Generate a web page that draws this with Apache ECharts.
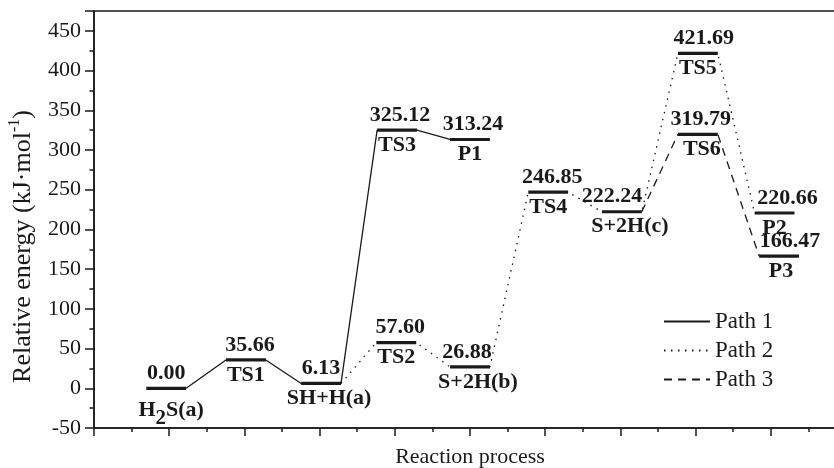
<!DOCTYPE html>
<html>
<head>
<meta charset="utf-8">
<script src="https://cdn.jsdelivr.net/npm/echarts@6/dist/echarts.min.js"></script>
<style>
html,body{margin:0;padding:0;background:#fff;}
#chart{width:834px;height:468px;}
</style>
</head>
<body>
<div id="chart"></div>
<script>
// ---- data ----
const stageNames = ['H2S(a)', 'TS1', 'SH+H(a)', 'TS2', 'TS3', 'P1', 'S+2H(b)', 'TS4', 'S+2H(c)', 'TS5', 'TS6', 'P2', 'P3'];
const reactionCoord = [0.96, 2.02, 3.02, 4.02, 4.03, 5.00, 5.00, 6.04, 7.02, 8.03, 8.03, 9.05, 9.11];
const energies = [0.00, 35.66, 6.13, 57.60, 325.12, 313.24, 26.88, 246.85, 222.24, 421.69, 319.79, 220.66, 166.47];
const path1 = ['H2S(a)', 'TS1', 'SH+H(a)', 'TS3', 'P1'];
const path2 = ['SH+H(a)', 'TS2', 'S+2H(b)', 'TS4', 'S+2H(c)', 'TS5', 'P2'];
const path3 = ['S+2H(c)', 'TS6', 'P3'];
const pathNames = ['Path 1', 'Path 2', 'Path 3'];

// ---- style ----
const FONT = 'Liberation Serif';
const INK = '#1a1a1a';
const HALF_W = 0.265; // half bar width in reaction-coordinate units
// label nudges (px), matching the reference placement
const valueDx = {'TS1': 4, 'TS2': 4, 'TS3': 3, 'P1': 3, 'S+2H(b)': -3, 'TS4': 4, 'S+2H(c)': -10, 'TS5': 6, 'TS6': 3, 'P2': 13, 'P3': 11};
const nameDx = {'H2S(a)': 5, 'SH+H(a)': 8, 'S+2H(b)': 8, 'S+2H(c)': 8, 'TS6': 4, 'P3': 2};

function idx(n) { return stageNames.indexOf(n); }
function pathData(path) {
  const out = [];
  for (let k = 0; k < path.length; k++) {
    const i = idx(path[k]);
    if (k > 0) out.push([reactionCoord[i] - HALF_W, energies[i]]);
    if (k < path.length - 1) out.push([reactionCoord[i] + HALF_W, energies[i]]);
  }
  return out;
}
function richName(n) {
  if (n.indexOf('H2S') === 0) return '{b|H}{s|2}{b|' + n.slice(2) + '}';
  return '{b|' + n + '}';
}

const levelData = stageNames.map((n, i) => [reactionCoord[i], energies[i], i]);

const lineTypes = ['solid', [1.5, 5.5], [8, 6]];
const paths = [path1, path2, path3];

const series = paths.map((p, k) => ({
  name: pathNames[k],
  type: 'line',
  data: pathData(p),
  symbol: 'none',
  showSymbol: false,
  z: 2,
  lineStyle: {color: INK, width: 1.3, type: lineTypes[k]},
  itemStyle: {color: INK},
  animation: false
}));

series.push({
  type: 'custom',
  z: 5,
  clip: false,
  data: levelData,
  renderItem: function (params, api) {
    const x = api.value(0), y = api.value(1), i = api.value(2);
    const n = stageNames[i];
    const a = api.coord([x - HALF_W, y]);
    const b = api.coord([x + HALF_W, y]);
    const cx = (a[0] + b[0]) / 2;
    return {
      type: 'group',
      children: [
        {type: 'line', shape: {x1: a[0], y1: a[1], x2: b[0], y2: b[1]},
         style: {stroke: INK, lineWidth: 3.2}},
        {type: 'text', x: cx + (valueDx[n] || 0), y: a[1] - 4,
         style: {text: energies[i].toFixed(2), fill: INK,
                 font: 'bold 22px "' + FONT + '"', align: 'center', verticalAlign: 'bottom'}},
        {type: 'text', x: cx + (nameDx[n] || 0), y: a[1] + 4,
         style: {text: richName(n), align: 'center', verticalAlign: 'top',
                 rich: {
                   b: {fontFamily: FONT, fontWeight: 'bold', fontSize: 22, fill: INK, color: INK},
                   s: {fontFamily: FONT, fontWeight: 'bold', fontSize: 21, fill: INK, color: INK, padding: [16, 0, 0, 0]}
                 }}}
      ]
    };
  }
});

const axisLineStyle = {color: INK, width: 1.5};

const option = {
  animation: false,
  backgroundColor: '#fff',
  grid: {left: 94, right: -12, top: 11, bottom: 40, show: true, borderColor: INK, borderWidth: 1.5,
         containLabel: false, outerBoundsMode: 'none'},
  legend: {
    data: pathNames,
    orient: 'vertical',
    left: 658, top: 305,
    itemWidth: 46, itemHeight: 14, itemGap: 6,
    itemStyle: {opacity: 0},
    textStyle: {fontFamily: FONT, fontSize: 23, color: INK}
  },
  xAxis: {
    type: 'value', min: 0, max: 10, interval: 1,
    axisLine: {onZero: false, lineStyle: axisLineStyle},
    axisTick: {show: true, length: 8, lineStyle: axisLineStyle},
    minorTick: {show: true, splitNumber: 2, length: 4, lineStyle: axisLineStyle},
    axisLabel: {show: false},
    splitLine: {show: false},
    minorSplitLine: {show: false},
    name: 'Reaction process', nameLocation: 'middle', nameGap: 18,
    nameTextStyle: {fontFamily: FONT, fontSize: 22, color: INK}
  },
  yAxis: {
    type: 'value', min: -50, max: 475, interval: 50,
    axisLine: {show: true, onZero: false, lineStyle: axisLineStyle},
    axisTick: {show: true, length: 9, lineStyle: axisLineStyle},
    minorTick: {show: true, splitNumber: 2, length: 4.5, lineStyle: axisLineStyle},
    axisLabel: {margin: 13, fontFamily: FONT, fontSize: 22, color: INK, showMaxLabel: false},
    splitLine: {show: false},
    minorSplitLine: {show: false},
    name: '{t|Relative energy (kJ·mol}{sup|-1}{t|)}',
    nameLocation: 'middle', nameGap: 55,
    nameTextStyle: {
      padding: [0, 54, 0, 0],
      rich: {
        t: {fontFamily: FONT, fontSize: 26, color: INK},
        sup: {fontFamily: FONT, fontSize: 16, color: INK, padding: [0, 0, 16, 0]}
      }
    }
  },
  series: series
};

const chart = echarts.init(document.getElementById('chart'), null, {renderer: 'canvas'});
chart.setOption(option);
</script>
</body>
</html>
